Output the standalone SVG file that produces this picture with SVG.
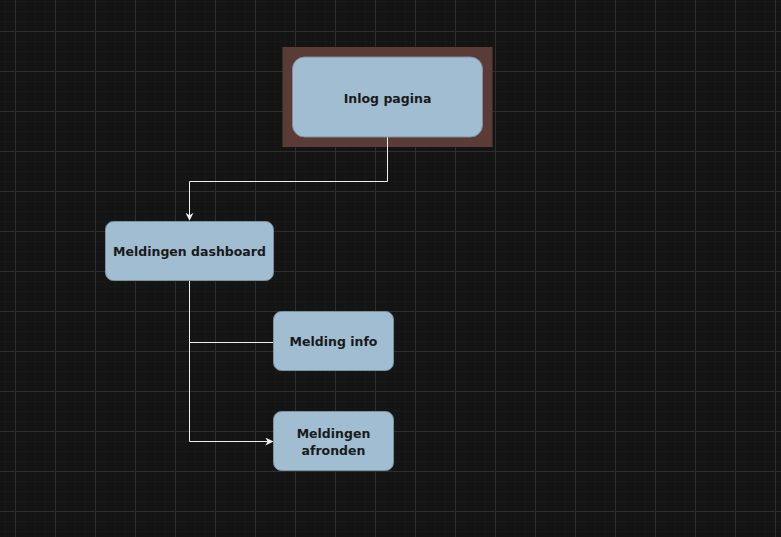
<svg xmlns="http://www.w3.org/2000/svg" width="781" height="537" viewBox="0 0 781 537">
  <defs>
    <pattern id="minor" x="5" y="1" width="10" height="10" patternUnits="userSpaceOnUse">
      <path d="M0 0H10M0 0V10" fill="none" stroke="#1c1c1c" stroke-width="1"/>
    </pattern>
    <pattern id="major" x="15" y="31" width="40" height="40" patternUnits="userSpaceOnUse">
      <path d="M0 0.5H40M0.5 0V40" fill="none" stroke="#2e2e2e" stroke-width="1"/>
    </pattern>
    <marker id="arrow" viewBox="0 0 10 10" refX="9" refY="5" markerWidth="8" markerHeight="8" markerUnits="userSpaceOnUse" orient="auto">
      <path d="M0 0L10 5L0 10L3 5Z" fill="#f0f0f0"/>
    </marker>
    <style>
      .node rect.box { fill: #a1bdd1; stroke: #7d909e; stroke-width: 1; }
      .node text { font-family: "DejaVu Sans", Verdana, sans-serif; font-weight: bold; font-size: 12.5px; fill: #1a1a1a; text-anchor: middle; }
      .edge { fill: none; stroke: #f0f0f0; stroke-width: 1; }
    </style>
  </defs>

  <!-- canvas with grid -->
  <rect width="781" height="537" fill="#141414"/>
  <rect width="781" height="537" fill="url(#minor)"/>
  <rect width="781" height="537" fill="url(#major)"/>

  <!-- selection backdrop behind the login node -->
  <g id="inlog-selection">
    <rect x="282.5" y="47" width="210" height="100" fill="#5a3b36"/>
  </g>

  <!-- connectors -->
  <g id="connectors">
    <path class="edge" d="M387.5 137V181.5H189.5V220" marker-end="url(#arrow)"/>
    <path class="edge" d="M189.5 281V342.5H273.5"/>
    <path class="edge" d="M189.5 342V441.5H272.5" marker-end="url(#arrow)"/>
  </g>

  <!-- nodes -->
  <g id="inlog-pagina" class="node">
    <rect class="box" x="292.5" y="57" width="190" height="80" rx="12" ry="12"/>
    <text x="387.5" y="102.5">Inlog pagina</text>
  </g>
  <g id="meldingen-dashboard" class="node">
    <rect class="box" x="105.5" y="221.5" width="168" height="59" rx="8" ry="8"/>
    <text x="189.5" y="255.5">Meldingen dashboard</text>
  </g>
  <g id="melding-info" class="node">
    <rect class="box" x="273.5" y="311.5" width="120" height="59" rx="8" ry="8"/>
    <text x="333.5" y="345.5">Melding info</text>
  </g>
  <g id="meldingen-afronden" class="node">
    <rect class="box" x="273.5" y="411.5" width="120" height="59" rx="8" ry="8"/>
    <text x="333.5" y="437.5">Meldingen</text>
    <text x="333.5" y="454.5">afronden</text>
  </g>
</svg>
